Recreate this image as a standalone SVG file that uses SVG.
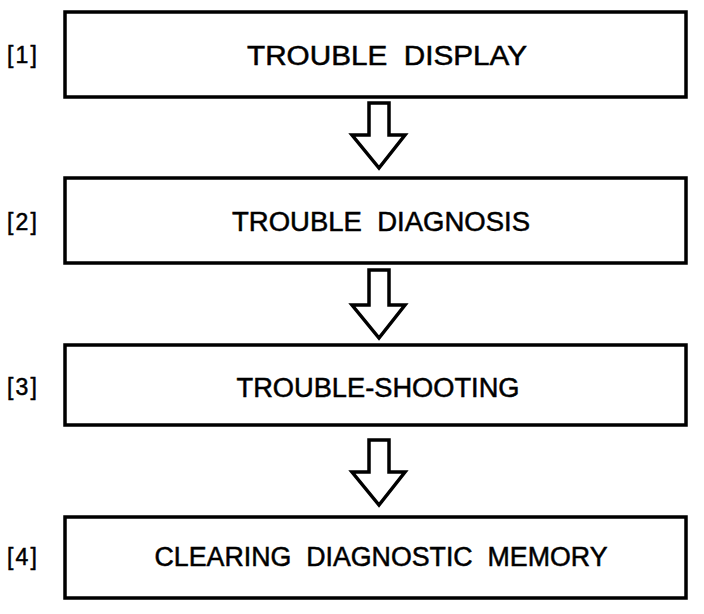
<svg xmlns="http://www.w3.org/2000/svg" width="704" height="614" viewBox="0 0 704 614">
<style>
.box{fill:#fff;stroke:#000;stroke-width:3.5}
.arr{fill:#fff;stroke:#000;stroke-width:3.5;stroke-linejoin:miter}
.t{font-family:"Liberation Sans",Arial,sans-serif;font-size:27px;fill:#000;stroke:#000;stroke-width:0.5;text-anchor:middle;dominant-baseline:central;white-space:pre}
.n{font-family:"Liberation Sans",Arial,sans-serif;font-size:23px;fill:#000;stroke:#000;stroke-width:0.5;dominant-baseline:central}
</style>
<rect width="704" height="614" fill="#fff"/>
<g id="connectors">
<path class="arr" d="M369,103 H389 V135 H405 L379,168 L352,135 H369 Z"/>
<path class="arr" d="M369,270 H389 V305 H405 L379,338 L352,305 H369 Z"/>
<path class="arr" d="M369,440 H389 V472 H405 L379,505 L352,472 H369 Z"/>
</g>
<g id="node1">
<text class="n" x="7" y="55" textLength="30">[1]</text>
<rect class="box" x="65" y="12" width="621" height="85"/>
<text class="t" x="387" y="56" textLength="280" lengthAdjust="spacingAndGlyphs" xml:space="preserve">TROUBLE  DISPLAY</text>
</g>
<g id="node2">
<text class="n" x="7" y="222" textLength="30">[2]</text>
<rect class="box" x="65" y="178" width="621" height="85"/>
<text class="t" x="381" y="222" textLength="298" lengthAdjust="spacingAndGlyphs" xml:space="preserve">TROUBLE  DIAGNOSIS</text>
</g>
<g id="node3">
<text class="n" x="7" y="387" textLength="30">[3]</text>
<rect class="box" x="65" y="345" width="621" height="80"/>
<text class="t" x="378" y="388" textLength="283" lengthAdjust="spacingAndGlyphs">TROUBLE-SHOOTING</text>
</g>
<g id="node4">
<text class="n" x="7" y="557" textLength="30">[4]</text>
<rect class="box" x="65" y="517" width="621" height="81"/>
<text class="t" x="381" y="557" textLength="453" lengthAdjust="spacingAndGlyphs" xml:space="preserve">CLEARING  DIAGNOSTIC  MEMORY</text>
</g>
</svg>
